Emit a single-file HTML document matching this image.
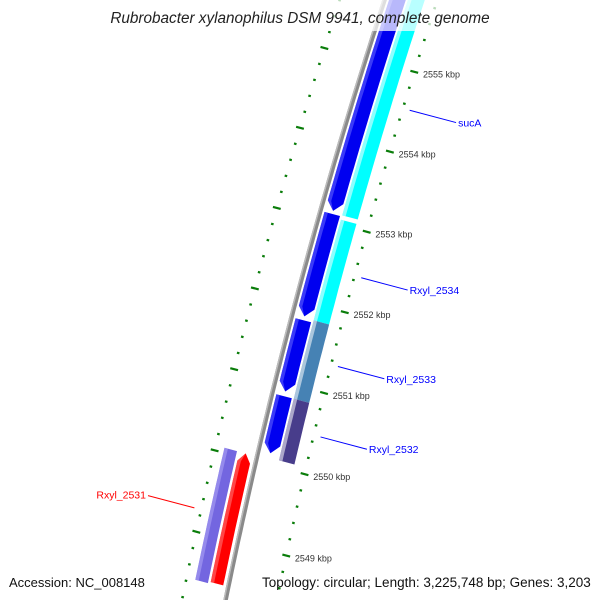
<!DOCTYPE html>
<html><head><meta charset="utf-8"><style>
html,body{margin:0;padding:0;background:#fff;overflow:hidden;}
svg{display:block;font-family:"Liberation Sans",sans-serif;}
</style></head><body>
<svg id="map" width="600" height="600" viewBox="0 0 600 600" xmlns="http://www.w3.org/2000/svg">
<g id="layer"></g>
<rect x="0" y="0" width="600" height="31" fill="#fff" opacity="0.72"/>
<text x="300" y="23" text-anchor="middle" font-size="15.3" font-style="italic" fill="#222">Rubrobacter xylanophilus DSM 9941, complete genome</text>
<text x="9" y="587" font-size="13" fill="#111">Accession: NC_008148</text>
<text x="262" y="587" font-size="13.5" fill="#111">Topology: circular; Length: 3,225,748 bp; Genes: 3,203</text>
</svg>
<script>
// data (kbp)
const fwdStarts=[2556.5,2553.10,2551.78,2550.84];
const fwdEnds=[2553.12,2551.81,2550.88,2550.12];
const outerStarts=[2556.0,2553.06,2551.81,2550.84];
const outerEnds=[2553.09,2551.81,2550.84,2550.08];
const outerColors=['#00ffff','#00ffff','#4682b4','#483d8b'];
const leftStarts=[2550.06];
const leftEnds=[2548.44];
const revStarts=[2550.06];
const revEnds=[2548.46];
const geneLabels=['sucA','Rxyl_2534','Rxyl_2533','Rxyl_2532'];
const geneLabelKbp=[2554.54,2552.45,2551.35,2550.48];
const leftLabels=['Rxyl_2531'];
const leftLabelKbp=[2549.27];
const tickMin=2547.8, tickMax=2556.4;
const majorLabels=['2549 kbp','2550 kbp','2551 kbp','2552 kbp','2553 kbp','2554 kbp','2555 kbp'];
const majorKbp=[2549,2550,2551,2552,2553,2554,2555];

const NS='http://www.w3.org/2000/svg';
const layer=document.getElementById('layer');
const th=14.84*Math.PI/180, S=Math.sin(th), C=Math.cos(th);
function P(u,v){const V=v+(u-310)*(u-310)/11000;return [383-u*S+V*C,u*C+V*S];}
function U(p){return 61.4+(2555-p)*83.4;}
function mk(tag,attrs){const e=document.createElementNS(NS,tag);for(const k in attrs)e.setAttribute(k,attrs[k]);layer.appendChild(e);return e;}
function band(u1,u2,v1,v2,tip,mid){
  const tl=9;
  if(mid===undefined)mid=(v1+v2)/2;
  let a=u1,b=u2;
  if(tip===1)b=u2-tl; if(tip===-1)a=u1+tl;
  const n=Math.max(2,Math.ceil((b-a)/10));
  const L=[],R=[];
  for(let i=0;i<=n;i++){const u=a+(b-a)*i/n;L.push(P(u,v1));R.push(P(u,v2));}
  let poly=[];
  if(tip===-1)poly.push(P(u1,mid));
  poly=poly.concat(R);
  if(tip===1)poly.push(P(u2,mid));
  poly=poly.concat(L.reverse());
  return poly.map(p=>p[0].toFixed(1)+','+p[1].toFixed(1)).join(' ');
}
function feature(u1,u2,v1,v2,tip,fill,hl,name){
  const g=mk('polygon',{points:band(u1,u2,v1,v2,tip),fill:fill});
  
  
  const mid=(v1+v2)/2;
  const h=mk('polygon',{points:band(u1,u2,v1,v1+3.5,tip,mid),fill:hl,opacity:0.55});
  
  
}
// backbone
let e=mk('polygon',{points:band(-20,640,-9.5,-5,0),fill:'#8a8a8a'});


e=mk('polygon',{points:band(-20,640,-9.5,-8,0),fill:'#bbb'});


// ticks
for(let p=tickMin;p<=tickMax+1e-6;p+=0.2){
  const q=Math.round(p*10)/10;const major=Math.abs(q-Math.round(q))<1e-6;
  const u=U(q);
  [43,-50].forEach((vc)=>{
    const h=major?4:1.3;
    const a=P(u,vc-h),b=P(u,vc+h);
    const t=mk('line',{x1:a[0],y1:a[1],x2:b[0],y2:b[1],stroke:'#0a7d0a','stroke-width':2.2});
    
    
  });
}
majorKbp.forEach((p,i)=>{
  const a=P(U(p),52);
  const t=mk('text',{x:a[0].toFixed(1),y:(a[1]+3.5).toFixed(1),'font-size':9,fill:'#333'});
  t.textContent=majorLabels[i];
  
  
});
fwdStarts.forEach((s,i)=>{
  feature(U(s),U(fwdEnds[i])-1.5,-3,13,1,'#0000f0','#6a6aff','forward-gene-'+(i+1));
});
outerStarts.forEach((s,i)=>{
  const gap=(i<outerStarts.length-1&&outerColors[i]===outerColors[i+1])?2:0;
  feature(U(s),U(outerEnds[i])-gap,15,31,0,outerColors[i],'#ffffff','gene-'+geneLabels[i].toLowerCase().replace('_','-'));
});
leftStarts.forEach((s,i)=>{
  feature(U(s),U(leftEnds[i]),-41,-28,0,'#7366e0','#b0a8f5','gene-rxyl-2531-feature');
});
revStarts.forEach((s,i)=>{
  feature(U(s),U(revEnds[i]),-25.5,-12.5,-1,'#ff0000','#ff8080','gene-rxyl-2531');
});
geneLabels.forEach((lab,i)=>{
  const u=U(geneLabelKbp[i]);const a=P(u,50),b=P(u,98);
  const l=mk('line',{x1:a[0],y1:a[1],x2:b[0],y2:b[1],stroke:'#0000ff','stroke-width':1});
  
  
  const t=mk('text',{x:(b[0]+2).toFixed(1),y:(b[1]+4).toFixed(1),'font-size':10.5,fill:'#0000ff'});
  t.textContent=lab;
  
  
});
leftLabels.forEach((lab,i)=>{
  const u=U(leftLabelKbp[i]);const a=P(u,-57),b=P(u,-105);
  const l=mk('line',{x1:a[0],y1:a[1],x2:b[0],y2:b[1],stroke:'#ff0000','stroke-width':1});
  
  
  const t=mk('text',{x:(b[0]-2).toFixed(1),y:(b[1]+3).toFixed(1),'font-size':10.5,fill:'#ff0000','text-anchor':'end'});
  t.textContent=lab;
  
  
});
</script>
</body></html>
